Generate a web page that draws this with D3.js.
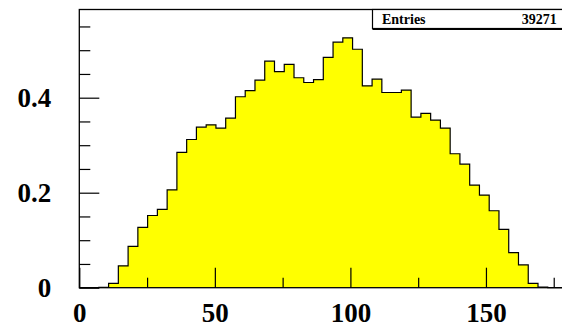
<!DOCTYPE html>
<html>
<head>
<meta charset="utf-8">
<script src="https://cdn.jsdelivr.net/npm/d3@7"></script>
<style>
  html, body { margin: 0; padding: 0; background: #fff; }
  svg { display: block; }
  .lbl { font-family: "Liberation Serif", "Times New Roman", serif; font-weight: bold; }
</style>
</head>
<body>
<svg id="chart" width="562" height="329"></svg>
<script>
// Histogram: 50 bins between 0 and 180
const binLow = 0;
const binHigh = 180;
const binContents = [
  0, 0, 0.001, 0.009, 0.046, 0.087, 0.127, 0.152, 0.165, 0.206,
  0.285, 0.312, 0.338, 0.343, 0.336, 0.357, 0.402, 0.415, 0.437, 0.477,
  0.455, 0.470, 0.442, 0.432, 0.438, 0.485, 0.517, 0.526, 0.502, 0.425,
  0.439, 0.411, 0.411, 0.416, 0.359, 0.367, 0.353, 0.336, 0.282, 0.260,
  0.216, 0.195, 0.162, 0.123, 0.074, 0.048, 0.009, 0.0015, 0, 0
];
const xMajorTicks = [0, 50, 100, 150];
const xMinorTicks = [25, 75, 125, 175];
const yMajorTicks = [0, 0.2, 0.4];
const yMinorTicks = [0.05, 0.1, 0.15, 0.25, 0.3, 0.35, 0.45, 0.5, 0.55];
const statLabel = "Entries";
const statValue = "39271";

const svg = d3.select("#chart");
const frame = { left: 79.3, top: 9.5, bottom: 287.7 };
const yMax = (frame.bottom - frame.top) / 475;

const x = d3.scaleLinear().domain([binLow, binHigh]).range([frame.left, frame.left + 180 * 2.711]);
const y = d3.scaleLinear().domain([0, yMax]).range([frame.bottom, frame.top]);

const binWidth = (binHigh - binLow) / binContents.length;
const steps = binContents.map((v, i) => ({ x: binLow + i * binWidth, v }));
steps.push({ x: binHigh, v: binContents[binContents.length - 1] });

const plot = svg.append("g");

// filled histogram
plot.append("path")
  .datum(steps)
  .attr("fill", "#ffff00")
  .attr("d", d3.area().curve(d3.curveStepAfter).x(d => x(d.x)).y0(y(0)).y1(d => y(d.v)));

// outline
plot.append("path")
  .datum(steps)
  .attr("fill", "none")
  .attr("stroke", "#000")
  .attr("stroke-width", 1.2)
  .attr("d", d3.line().curve(d3.curveStepAfter).x(d => x(d.x)).y(d => y(d.v)));

// frame
svg.append("rect")
  .attr("x", frame.left).attr("y", frame.top)
  .attr("width", x(binHigh) - frame.left)
  .attr("height", frame.bottom - frame.top)
  .attr("fill", "none").attr("stroke", "#000").attr("stroke-width", 1.3);

// x axis: major and minor ticks drawn inward
const xAxisMajor = svg.append("g")
  .attr("transform", `translate(0,${frame.bottom})`)
  .call(d3.axisBottom(x).tickValues(xMajorTicks).tickSize(-20).tickPadding(15).tickFormat(d3.format("d")));
const xAxisMinor = svg.append("g")
  .attr("transform", `translate(0,${frame.bottom})`)
  .call(d3.axisBottom(x).tickValues(xMinorTicks).tickSize(-10).tickFormat(""));

// y axis
const yAxisMajor = svg.append("g")
  .attr("transform", `translate(${frame.left},0)`)
  .call(d3.axisLeft(y).tickValues(yMajorTicks).tickSize(-20).tickPadding(28).tickFormat(d => d === 0 ? "0" : d3.format(".1f")(d)));
const yAxisMinor = svg.append("g")
  .attr("transform", `translate(${frame.left},0)`)
  .call(d3.axisLeft(y).tickValues(yMinorTicks).tickSize(-11).tickFormat(""));

[xAxisMajor, xAxisMinor, yAxisMajor, yAxisMinor].forEach(g => {
  g.select(".domain").remove();
  g.selectAll(".tick line").attr("stroke", "#000").attr("stroke-width", 1.2);
  g.selectAll("text").attr("class", "lbl").attr("font-size", 27).attr("fill", "#000");
});
yAxisMajor.selectAll("text").attr("dy", "0.34em");

// statistics box
const box = svg.append("g");
box.append("rect")
  .attr("x", 372.5).attr("y", frame.top)
  .attr("width", 220).attr("height", 19)
  .attr("fill", "#fff").attr("stroke", "#000").attr("stroke-width", 1.2);
box.append("line")
  .attr("x1", 372.5).attr("x2", 562).attr("y1", 29).attr("y2", 29)
  .attr("stroke", "#000").attr("stroke-width", 2);
box.append("text").attr("class", "lbl").attr("font-size", 14)
  .attr("x", 382).attr("y", 24.3).text(statLabel);
box.append("text").attr("class", "lbl").attr("font-size", 14)
  .attr("x", 556.7).attr("y", 24.3).attr("text-anchor", "end").text(statValue);
</script>
</body>
</html>
